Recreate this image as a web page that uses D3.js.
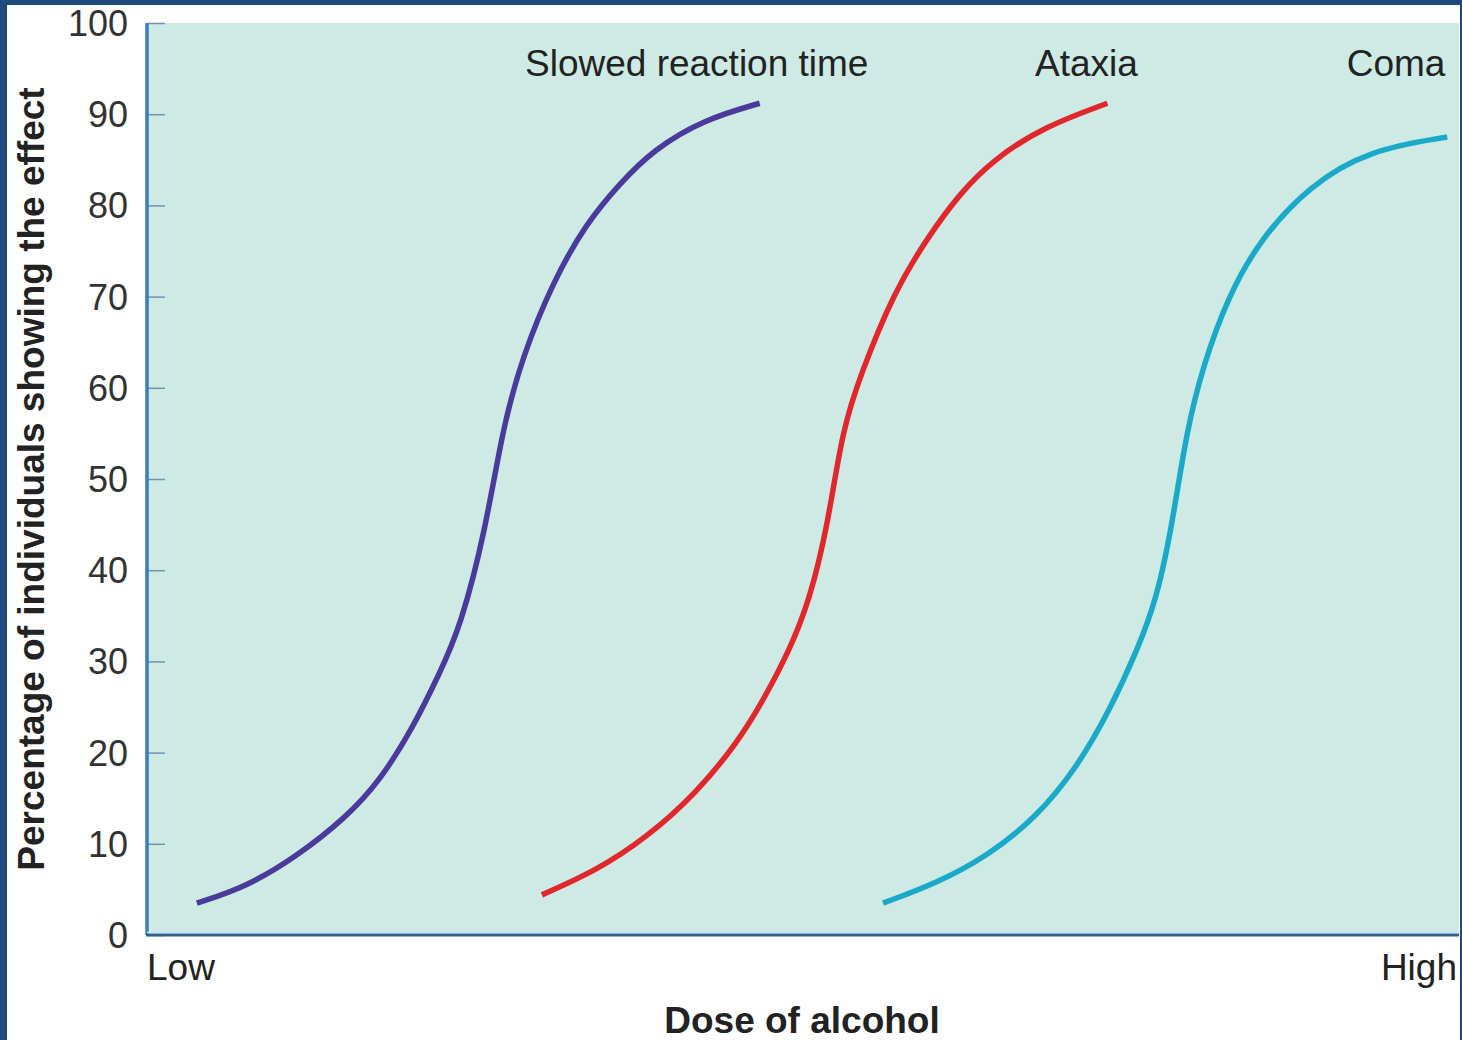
<!DOCTYPE html>
<html>
<head>
<meta charset="utf-8">
<script src="https://cdn.jsdelivr.net/npm/d3@7"></script>
<style>
  body { margin: 0; background: #fff; }
  text { font-family: "Liberation Sans", Arial, sans-serif; }
</style>
</head>
<body>
<div id="chart"></div>
<script>
// dose-response curves, dose 0 (Low) .. 100 (High), % of individuals
var seriesNames = ["Slowed reaction time", "Ataxia", "Coma"];
var seriesColors = ["#4a3a9c", "#e1262c", "#1ba9c9"];

var slowedDose = [3.8, 7.6, 11.4, 15.2, 17.8, 20.3, 22.3, 23.9, 25.8, 27.1, 28.6, 31.0, 33.5, 36.1, 38.6, 42.4, 46.7];
var slowedPct  = [3.5, 5.3, 8.6, 12.9, 17.0, 22.8, 28.7, 33.8, 44.4, 55.5, 63.4, 71.8, 78.1, 82.5, 86.1, 89.4, 91.2];

var ataxiaDose = [30.1, 34.3, 38.1, 41.9, 45.0, 47.0, 49.0, 50.5, 51.9, 53.0, 54.4, 56.9, 59.5, 62.0, 64.5, 68.3, 73.2];
var ataxiaPct  = [4.4, 7.1, 10.7, 15.6, 21.1, 25.8, 31.3, 36.7, 45.0, 55.4, 61.5, 70.4, 76.5, 81.4, 85.0, 88.6, 91.2];

var comaDose = [56.1, 60.2, 64.0, 67.8, 70.9, 73.4, 75.5, 77.0, 78.2, 79.2, 80.5, 82.4, 84.8, 88.6, 93.2, 99.1];
var comaPct  = [3.5, 5.7, 8.6, 12.9, 18.4, 24.7, 31.3, 37.0, 45.5, 55.0, 62.5, 70.0, 76.2, 82.2, 86.1, 87.5];

var yTicks = [0, 10, 20, 30, 40, 50, 60, 70, 80, 90, 100];
var xEndLabels = ["Low", "High"];

var w = 1462, h = 1040;
var mLeft = 147, mRight = 1459, mTop = 23, mBottom = 935;

var svg = d3.select("#chart").append("svg")
    .attr("width", w)
    .attr("height", h);

// frame
svg.append("rect").attr("width", w).attr("height", h).attr("fill", "#1e4a7f");
svg.append("rect").attr("x", 7).attr("y", 5).attr("width", 1453).attr("height", h)
    .attr("fill", "#fff");

var x = d3.scaleLinear().domain([0, 100]).range([mLeft, mRight]);
var y = d3.scaleLinear().domain([0, 100]).range([mBottom, mTop]);

svg.append("rect")
    .attr("x", mLeft).attr("y", mTop)
    .attr("width", mRight - mLeft).attr("height", mBottom - mTop)
    .attr("fill", "#cdeae5");

// y axis: ticks pointing into plot, labels on left
var yAxis = d3.axisRight(y).tickValues(yTicks).tickSize(17).tickFormat("");
var gy = svg.append("g").attr("transform", "translate(" + (mLeft + 1) + ",0)").call(yAxis);
gy.select(".domain").remove();
gy.selectAll(".tick line").attr("stroke", "#6f93b5").attr("stroke-width", 1.5);

svg.selectAll(".ylab")
    .data(yTicks)
    .enter()
    .append("text")
    .attr("class", "ylab")
    .attr("x", 128)
    .attr("y", function(d) { return y(d); })
    .attr("dy", "0.36em")
    .attr("text-anchor", "end")
    .attr("font-size", 36)
    .attr("fill", "#333")
    .text(function(d) { return d; });

svg.append("line")
    .attr("x1", mLeft).attr("x2", mLeft)
    .attr("y1", mTop).attr("y2", mBottom)
    .attr("stroke", "#3d7bbd").attr("stroke-width", 3.5);
svg.append("line")
    .attr("x1", mLeft - 1).attr("x2", mRight)
    .attr("y1", mBottom).attr("y2", mBottom)
    .attr("stroke", "#2d5e8c").attr("stroke-width", 3);
svg.append("line")
    .attr("x1", mLeft).attr("x2", mRight)
    .attr("y1", mBottom - 2.5).attr("y2", mBottom - 2.5)
    .attr("stroke", "#bfe8f2").attr("stroke-width", 1.5);

// curves
var line = d3.line()
    .x(function(d) { return x(d[0]); })
    .y(function(d) { return y(d[1]); })
    .curve(d3.curveBasis);

var series = [
    d3.zip(slowedDose, slowedPct),
    d3.zip(ataxiaDose, ataxiaPct),
    d3.zip(comaDose, comaPct)
];

svg.selectAll(".curve")
    .data(series)
    .enter()
    .append("path")
    .attr("class", "curve")
    .attr("d", line)
    .attr("fill", "none")
    .attr("stroke", function(d, i) { return seriesColors[i]; })
    .attr("stroke-width", 5.5);

// series labels, centred at these doses
var labelAt = [41.9, 71.6, 95.2];
svg.selectAll(".slabel")
    .data(seriesNames)
    .enter()
    .append("text")
    .attr("class", "slabel")
    .attr("x", function(d, i) { return x(labelAt[i]); })
    .attr("y", 76)
    .attr("text-anchor", "middle")
    .attr("font-size", 37)
    .attr("fill", "#222")
    .text(function(d) { return d; });

svg.append("text")
    .attr("x", x(0)).attr("y", 980)
    .attr("font-size", 37).attr("fill", "#222")
    .text(xEndLabels[0]);
svg.append("text")
    .attr("x", x(100) - 2).attr("y", 980)
    .attr("text-anchor", "end")
    .attr("font-size", 37).attr("fill", "#222")
    .text(xEndLabels[1]);

svg.append("text")
    .attr("x", 802).attr("y", 1033)
    .attr("text-anchor", "middle")
    .attr("font-size", 37).attr("font-weight", "bold").attr("fill", "#222")
    .text("Dose of alcohol");

svg.append("text")
    .attr("transform", "translate(44,479) rotate(-90)")
    .attr("text-anchor", "middle")
    .attr("font-size", 37).attr("font-weight", "bold").attr("fill", "#222")
    .text("Percentage of individuals showing the effect");
</script>
</body>
</html>
